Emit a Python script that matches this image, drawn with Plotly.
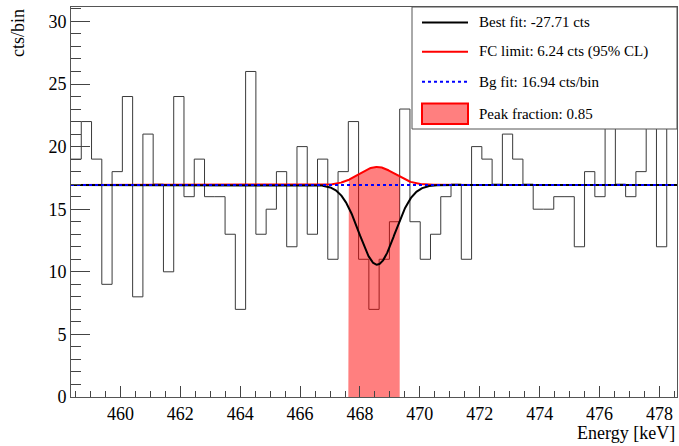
import numpy as np
import plotly.graph_objects as go

# ---- data ----
x_min = 458.35
bin_width = 0.343
counts = [19, 22, 19, 9, 18, 24, 8, 21, 17, 10,
          24, 16, 19, 16, 16, 13, 7, 26, 13, 15,
          18, 12, 20, 13, 19, 11, 18, 22, 11, 7,
          11, 14, 23, 14, 11, 13, 16, 17, 11, 20,
          19, 17, 21, 19, 17, 15, 15, 16, 16, 12,
          18, 16, 22, 17, 16, 18, 23, 12, 22]
bg_level = 16.94          # cts/bin
best_fit_cts = -27.71
fc_limit_cts = 6.24
peak_center = 468.57
peak_sigma = 0.595
band_first_bin = 27       # peak window (bins 28..32)
band_last_bin = 32
x_ticks = [460, 462, 464, 466, 468, 470, 472, 474, 476, 478]
y_ticks = [0, 5, 10, 15, 20, 25, 30]

legend_labels = ["Best fit: -27.71 cts", "FC limit: 6.24 cts (95% CL)",
                 "Bg fit: 16.94 cts/bin", "Peak fraction: 0.85"]

# ---- derived ----
n = len(counts)
edges = x_min + bin_width * np.arange(n + 1)
x_max = edges[-1]

def model(x, total):
    amp = total * bin_width / (peak_sigma * np.sqrt(2 * np.pi))
    return bg_level + amp * np.exp(-0.5 * ((x - peak_center) / peak_sigma) ** 2)

xf = np.linspace(x_min, x_max, 1200)
y_best = model(xf, best_fit_cts)
y_fc = model(xf, fc_limit_cts)

SERIF = "Liberation Serif, Times New Roman, serif"
fig = go.Figure()

# histogram outline
fig.add_trace(go.Scatter(x=edges, y=list(counts) + [counts[-1]], mode="lines",
                         line=dict(color="#3a3a3a", width=1, shape="hv"),
                         hoverinfo="skip", showlegend=False))

# peak-window band under the FC curve
xb = np.linspace(edges[band_first_bin], edges[band_last_bin], 200)
yb = model(xb, fc_limit_cts)
fig.add_trace(go.Scatter(x=np.concatenate([[xb[0]], xb, [xb[-1]]]),
                         y=np.concatenate([[0], yb, [0]]),
                         fill="toself", fillcolor="rgba(255,0,0,0.5)",
                         line=dict(width=0), mode="lines",
                         hoverinfo="skip", showlegend=False))

fig.add_trace(go.Scatter(x=xf, y=y_fc, mode="lines", line=dict(color="red", width=2),
                         showlegend=False))
fig.add_trace(go.Scatter(x=xf, y=y_best, mode="lines", line=dict(color="black", width=2),
                         showlegend=False))
fig.add_trace(go.Scatter(x=[x_min, x_max], y=[bg_level, bg_level], mode="lines",
                         line=dict(color="blue", width=2, dash="dot"), showlegend=False))

fig.update_layout(
    width=679, height=446,
    margin=dict(l=71, r=2, t=7, b=49),
    paper_bgcolor="white", plot_bgcolor="white",
    showlegend=False,
    font=dict(family=SERIF, size=18, color="black"),
)
fig.update_xaxes(range=[x_min, x_max], tickvals=x_ticks, ticks="inside", ticklen=11,
                 tickcolor="#444", showgrid=False, zeroline=False,
                 showline=True, linecolor="#555", linewidth=1, mirror=True,
                 tickfont=dict(family=SERIF, size=18),
                 minor=dict(ticks="inside", ticklen=6, dtick=0.5, tickcolor="#444", showgrid=False))
fig.update_yaxes(range=[0, 31.15], tickvals=y_ticks, ticks="inside", ticklen=19,
                 tickcolor="#444", showgrid=False, zeroline=False,
                 showline=True, linecolor="#555", linewidth=1, mirror=True,
                 tickfont=dict(family=SERIF, size=18),
                 minor=dict(ticks="inside", ticklen=10, dtick=1, tickcolor="#444", showgrid=False))

# axis titles
fig.add_annotation(text="cts/bin", textangle=-90, xref="paper", yref="paper",
                   x=-53 / 606, y=1.0, xanchor="center", yanchor="top", showarrow=False,
                   font=dict(family=SERIF, size=18))
fig.add_annotation(text="Energy [keV]", xref="paper", yref="paper",
                   x=1.0, y=-36 / 390, xanchor="right", yanchor="middle", showarrow=False,
                   font=dict(family=SERIF, size=18))

# legend box (paper coords: plot area 606 x 390 px)
def px(xp):
    return (xp - 71) / 606

def py(yp):
    return (397 - yp) / 390

fig.add_shape(type="rect", xref="paper", yref="paper", x0=px(412), x1=1.0, y0=py(129), y1=1.0,
              line=dict(color="#555", width=1), fillcolor="white", layer="above")
rows = [22.5, 51.7, 81.7, 114]
styles = [dict(color="black", width=2), dict(color="red", width=2),
          dict(color="blue", width=2, dash="dot")]
for i, st in enumerate(styles):
    fig.add_shape(type="line", xref="paper", yref="paper", x0=px(422), x1=px(468),
                  y0=py(rows[i]), y1=py(rows[i]), line=st, layer="above")
fig.add_shape(type="rect", xref="paper", yref="paper", x0=px(422), x1=px(468),
              y0=py(124), y1=py(103.5), line=dict(color="red", width=2),
              fillcolor="rgba(255,0,0,0.5)", layer="above")
for r, lab in zip(rows, legend_labels):
    fig.add_annotation(text=lab, xref="paper", yref="paper", x=px(477), y=py(r),
                       xanchor="left", yanchor="middle", showarrow=False,
                       font=dict(family=SERIF, size=15))

fig.write_html("out.html", config={"displayModeBar": False},
               post_script="document.body.style.margin='0';document.body.style.overflow='hidden';")
